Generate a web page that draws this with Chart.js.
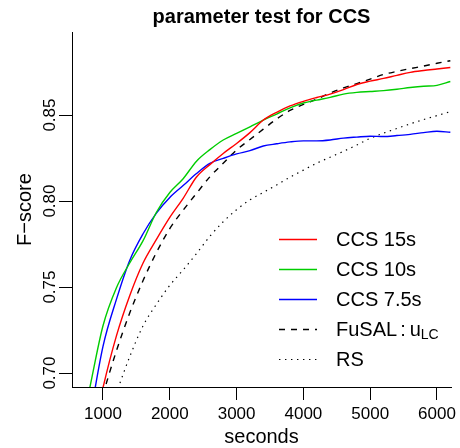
<!DOCTYPE html>
<html>
<head>
<meta charset="utf-8">
<script src="https://cdn.jsdelivr.net/npm/chart.js@4.4.1/dist/chart.umd.min.js"></script>
<style>
  html, body { margin: 0; padding: 0; background: #fff; }
  #wrap { width: 460px; height: 448px; }
</style>
</head>
<body>
<div id="wrap"><canvas id="fscoreChart" width="460" height="448"></canvas></div>
<script>
const FONT = '"Liberation Sans", Arial, Helvetica, sans-serif';

const titleText = 'parameter test for CCS';
const xTitle = 'seconds';
const yTitle = 'F\u2212score';

const xTicks = [1000, 2000, 3000, 4000, 5000, 6000];
const yTicks = [0.70, 0.75, 0.80, 0.85];

const seconds = [800, 1000, 1200, 1400, 1600, 1800, 2000, 2200, 2400, 2600, 2800, 3000, 3200, 3400,
                 3600, 3800, 4000, 4200, 4400, 4600, 4800, 5000, 5200, 5400, 5600, 5800, 6000, 6200];

const ccs15 = [0.655, 0.6915, 0.7215, 0.745, 0.764, 0.7777, 0.7905, 0.8016, 0.814, 0.8212, 0.8277, 0.8335, 0.8398, 0.8471,
               0.8516, 0.8553, 0.858, 0.8602, 0.8622, 0.8648, 0.8678, 0.8697, 0.8713, 0.8731, 0.8748, 0.8759, 0.8768, 0.8777];
const ccs10 = [0.691, 0.7275, 0.7495, 0.764, 0.777, 0.7935, 0.805, 0.813, 0.8232, 0.8299, 0.8355, 0.8394, 0.8432, 0.8471,
               0.8506, 0.8542, 0.857, 0.8587, 0.8603, 0.8622, 0.8632, 0.8637, 0.8642, 0.865, 0.866, 0.8668, 0.8673, 0.8695];
const ccs75 = [0.673, 0.7155, 0.7427, 0.7655, 0.781, 0.793, 0.8021, 0.809, 0.816, 0.8219, 0.8248, 0.8274, 0.8293, 0.832,
               0.8333, 0.8344, 0.835, 0.835, 0.8355, 0.8366, 0.8372, 0.8377, 0.8375, 0.8381, 0.8388, 0.8398, 0.8406, 0.84];
const fusal = [0.66, 0.6875, 0.7128, 0.7349, 0.7538, 0.7701, 0.784, 0.7947, 0.8045, 0.8141, 0.822, 0.8297, 0.8358, 0.8418,
               0.8477, 0.8527, 0.8562, 0.8593, 0.8628, 0.8658, 0.8683, 0.8709, 0.8736, 0.8754, 0.877, 0.8785, 0.8801, 0.8816];
const rs    = [0.645, 0.668, 0.6885, 0.7095, 0.7275, 0.74, 0.751, 0.76, 0.7695, 0.7795, 0.788, 0.795, 0.8007, 0.805,
               0.8094, 0.8139, 0.818, 0.822, 0.8255, 0.8289, 0.8326, 0.8365, 0.8395, 0.8422, 0.8449, 0.8474, 0.8497, 0.852];

const toPoints = vals => seconds.map((s, i) => ({ x: s, y: vals[i] }));

function series(label, vals, color, dash, width) {
    return {
        label: label,
        data: toPoints(vals),
        borderColor: color,
        borderWidth: width,
        borderDash: dash,
        fill: false,
        pointRadius: 0,
        cubicInterpolationMode: 'monotone'
    };
}

// draws all the R-style text: title, tick labels, axis titles, legend
const rText = {
    id: 'rText',
    afterDraw(chart) {
        const ctx = chart.ctx;
        const xs = chart.scales.x, ys = chart.scales.y;
        const area = chart.chartArea;
        const midX = (area.left + area.right) / 2;
        ctx.save();
        ctx.fillStyle = '#000';

        ctx.font = 'bold 20px ' + FONT;
        ctx.textAlign = 'center';
        ctx.textBaseline = 'alphabetic';
        ctx.fillText(titleText, midX, 23);

        ctx.font = '17px ' + FONT;
        xs.ticks.forEach(t => ctx.fillText(String(t.value), xs.getPixelForValue(t.value), 419));
        ys.ticks.forEach(t => {
            ctx.save();
            ctx.translate(55, ys.getPixelForValue(t.value));
            ctx.rotate(-Math.PI / 2);
            ctx.fillText(t.value.toFixed(2), 0, 0);
            ctx.restore();
        });

        ctx.font = '20px ' + FONT;
        ctx.fillText(xTitle, midX, 443);
        ctx.save();
        ctx.translate(31, (area.top + area.bottom) / 2);
        ctx.rotate(-Math.PI / 2);
        ctx.fillText(yTitle, 0, 0);
        ctx.restore();

        // legend
        ctx.textAlign = 'left';
        ctx.textBaseline = 'middle';
        chart.data.datasets.forEach((ds, i) => {
            const y = 239.5 + i * 30;
            ctx.beginPath();
            ctx.strokeStyle = ds.borderColor;
            ctx.lineWidth = ds.borderWidth;
            ctx.setLineDash(ds.borderDash || []);
            ctx.moveTo(279, y);
            ctx.lineTo(317, y);
            ctx.stroke();
            ctx.setLineDash([]);
            const parts = ds.label.split('_');
            ctx.font = '20px ' + FONT;
            let x = 336;
            if (parts[0].indexOf(':') >= 0) {
                const [a, b] = parts[0].split(':');
                ctx.fillText(a.trim(), x, y + 1);
                x += ctx.measureText(a.trim()).width + 3;
                ctx.fillText(':', x, y + 1);
                x += ctx.measureText(':').width + 4;
                ctx.fillText(b.trim(), x, y + 1);
                x += ctx.measureText(b.trim()).width;
            } else {
                ctx.fillText(parts[0], x, y + 1);
            }
            if (parts[1]) {
                ctx.font = '14px ' + FONT;
                ctx.fillText(parts[1], x, y + 6);
            }
        });
        ctx.restore();
    }
};

new Chart(document.getElementById('fscoreChart').getContext('2d'), {
    type: 'line',
    data: {
        datasets: [
            series('CCS 15s', ccs15, '#ff0000', [], 1.4),
            series('CCS 10s', ccs10, '#00cd00', [], 1.4),
            series('CCS 7.5s', ccs75, '#0000ff', [], 1.4),
            series('FuSAL : u_LC', fusal, '#000000', [6, 6], 1.4),
            series('RS', rs, '#000000', [1.4, 4.6], 1.2)
        ]
    },
    options: {
        animation: false,
        responsive: false,
        devicePixelRatio: 1,
        layout: { padding: { left: 0, top: 32, right: 9, bottom: 0 } },
        scales: {
            x: {
                type: 'linear',
                min: 536,
                max: 6210,
                afterBuildTicks: s => { s.ticks = xTicks.map(v => ({ value: v })); },
                afterFit: s => { s.height = 61; },
                ticks: { display: false },
                grid: { drawOnChartArea: false, drawTicks: true, tickLength: 13, color: '#000', lineWidth: 1 },
                border: { display: true, color: '#000', width: 1 }
            },
            y: {
                type: 'linear',
                min: 0.6919,
                max: 0.8983,
                afterBuildTicks: s => { s.ticks = yTicks.map(v => ({ value: v })); },
                afterFit: s => { s.width = 72; },
                ticks: { display: false },
                grid: { drawOnChartArea: false, drawTicks: true, tickLength: 13, color: '#000', lineWidth: 1 },
                border: { display: true, color: '#000', width: 1 }
            }
        },
        plugins: {
            legend: { display: false },
            title: { display: false },
            tooltip: { enabled: false }
        }
    },
    plugins: [rText]
});
</script>
</body>
</html>
